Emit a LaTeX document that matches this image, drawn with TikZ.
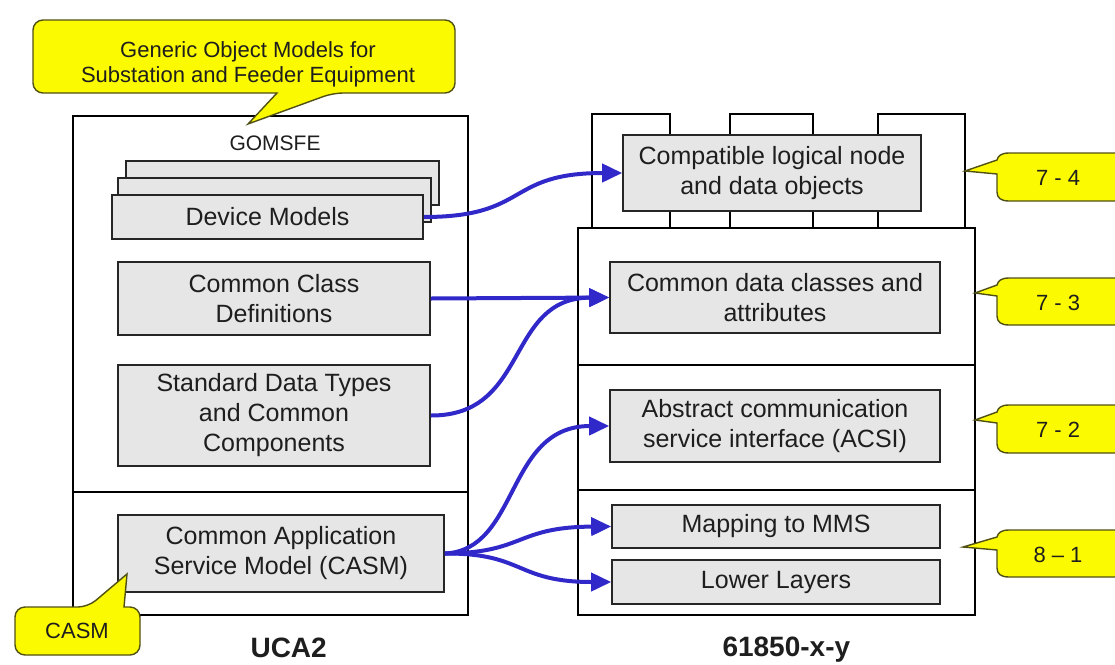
\documentclass[tikz,border=0pt]{standalone}
\usepackage{fontspec}
\setmainfont{Liberation Sans}
\usetikzlibrary{arrows.meta}
\definecolor{cyel}{RGB}{252,250,0}
\definecolor{cyelb}{RGB}{80,80,20}
\definecolor{cgray}{RGB}{230,230,230}
\definecolor{cblue}{RGB}{48,40,200}
\definecolor{ctxt}{RGB}{30,30,30}
\begin{document}
\begin{tikzpicture}[x=1pt,y=-1pt,
  gbox/.style={draw=black!85, line width=1.6pt, fill=cgray, text=ctxt,
    font=\fontsize{25}{30}\selectfont, align=center, inner sep=0pt},
  frame/.style={draw=black, line width=2.6pt},
  callout/.style={draw=cyelb, fill=cyel, line width=1.4pt, rounded corners=10pt},
  calltext/.style={text=ctxt, font=\fontsize{22}{25}\selectfont, align=center},
  biglabel/.style={text=ctxt, font=\fontsize{28}{30}\selectfont\bfseries},
  link/.style={draw=cblue, line width=4pt, -{Triangle[length=20pt,width=18pt]}},
]
\useasboundingbox (0,0) rectangle (1115,664);

% ---- left frame (UCA2)
\draw[frame] (73,116) rectangle (468,615);
\draw[frame] (73,492) -- (468,492);

% ---- right frame (61850-x-y)
\draw[frame] (592,114) rectangle (670,228);
\draw[frame] (730,114) rectangle (813,228);
\draw[frame] (878,114) rectangle (965,228);
\draw[frame] (578,228) rectangle (975,365);
\draw[frame] (578,365) rectangle (975,490);
\draw[frame] (578,490) rectangle (975,615);

% ---- top callout
\draw[callout] (33,20) -- (455,20) -- (455,93) -- (333,93)
  [sharp corners] -- (248,124) -- (277,93) [rounded corners=10pt] -- (33,93) -- cycle;
\node[calltext] (gomtxt) at (248,64) {Generic Object Models for\\Substation and Feeder Equipment};

\node[text=ctxt, font=\fontsize{21}{24}\selectfont] (gomsfe) at (275,143) {GOMSFE};

% ---- left gray boxes
\node[gbox, minimum width=313pt, minimum height=44pt] (dmb) at (282.5,183) {};
\node[gbox, minimum width=313pt, minimum height=44pt] (dmm) at (274.5,200) {};
\node[gbox, minimum width=311pt, minimum height=44pt] (dm) at (267.5,217) {Device Models};
\node[gbox, minimum width=312pt, minimum height=73pt] (ccd) at (274,298.5) {Common Class\\Definitions};
\node[gbox, minimum width=312pt, minimum height=101pt] (sdt) at (274,415.5) {Standard Data Types\\and Common\\Components};
\node[gbox, minimum width=326pt, minimum height=77pt] (casm) at (281,553.5) {Common Application\\Service Model (CASM)};

% ---- right gray boxes
\node[gbox, minimum width=298pt, minimum height=76pt] (cln) at (772,173) {Compatible logical node\\and data objects};
\node[gbox, minimum width=330pt, minimum height=71pt] (cdc) at (775,297.5) {Common data classes and\\attributes};
\node[gbox, minimum width=330pt, minimum height=72pt] (acsi) at (775,426) {Abstract communication\\service interface (ACSI)};
\node[gbox, minimum width=328pt, minimum height=43pt] (mms) at (776,526.5) {Mapping to MMS};
\node[gbox, minimum width=328pt, minimum height=44pt] (ll) at (776,582) {Lower Layers};

% ---- CASM callout
\draw[callout] (15,607) -- (88,607) [sharp corners] -- (127,574) -- (124,607)
  [rounded corners=10pt] -- (140,607) -- (140,655) -- (15,655) -- cycle;
\node[calltext] (casmtxt) at (77,631) {CASM};

% ---- right callouts
\foreach \t/\b/\ty/\tx/\lab/\nm in {153/201/171/965/{7 - 4}/c74, 278/325/293/975/{7 - 3}/c73,
    405/453/420/975/{7 - 2}/c72, 530/577/547/963/{8 – 1}/c81}{
  \draw[callout, sharp corners] (1130,\t) -- (1009,\t)
    .. controls (1001,\t) and (998,\t+3) .. (997,\t+7) -- (\tx,\ty) -- (997,\ty+3)
    -- (997,\b-9) .. controls (997,\b-3) and (1001,\b) .. (1009,\b) -- (1130,\b) -- cycle;
  \node[calltext] (\nm) at (1058,{(\t+\b)/2+1}) {\lab};
}

% ---- bottom labels
\node[biglabel, anchor=west] (uca) at (247,648) {UCA2};
\node[biglabel, anchor=west] (iec) at (719,650) {61850-x-y};

% ---- connectors
\draw[link] (dm.east) .. controls (530,217) and (505,173) .. (cln.west);
\draw[link] (ccd.east) -- (cdc.west);
\draw[link] (sdt.east) .. controls (530,416) and (505,298) .. (cdc.west);
\draw[link] (casm.east) .. controls (520,550) and (505,426) .. (acsi.west);
\draw[link] (casm.east) .. controls (525,553) and (515,527) .. (mms.west);
\draw[link] (casm.east) .. controls (525,553) and (515,582) .. (ll.west);
\end{tikzpicture}
\end{document}
